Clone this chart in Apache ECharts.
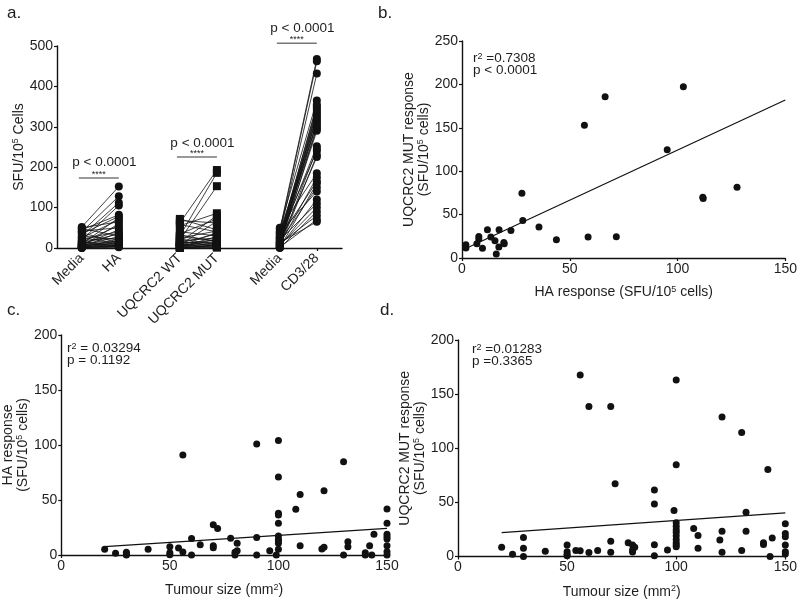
<!DOCTYPE html>
<html><head><meta charset="utf-8">
<script src="https://cdn.jsdelivr.net/npm/echarts@6/dist/echarts.min.js"></script>
<style>html,body{margin:0;padding:0;background:#fff}#c{width:800px;height:600px}</style>
</head><body><div id="c"></div>
<script>
// ---------- Panel a: paired responses ----------
const groupLabels = ['Media', 'HA', 'UQCRC2 WT', 'UQCRC2 MUT', 'Media', 'CD3/28'];
const aYTicks = [0, 100, 200, 300, 400, 500];
const haMedia = [52, 40, 30, 20, 45, 35, 10, 25, 50, 5, 15, 42, 8, 22, 3, 12, 48, 6, 18, 2, 30, 4, 14, 1, 9, 26, 3, 7, 0, 11, 2, 5, 1, 0, 38, 16];
const haResp  = [152, 128, 112, 105, 82, 78, 75, 70, 65, 60, 55, 50, 45, 40, 38, 35, 30, 28, 25, 22, 20, 18, 15, 14, 12, 10, 9, 8, 7, 6, 5, 4, 3, 2, 12, 3];
const wtResp  = [62, 30, 20, 68, 55, 15, 35, 8, 72, 25, 5, 12, 40, 3, 18, 2, 10, 28, 6, 1, 14, 4, 22, 0, 9, 2, 16, 0, 7, 58, 33, 1];
const mutResp = [193, 186, 153, 62, 86, 80, 72, 66, 45, 42, 38, 35, 30, 28, 25, 22, 20, 18, 16, 14, 12, 10, 9, 8, 6, 5, 4, 3, 2, 40, 15, 1];
const cdMedia = [45, 40, 35, 50, 30, 20, 10, 25, 15, 5, 40, 8, 18, 2, 28, 12, 22, 6, 32, 3, 14, 48, 9, 26, 1, 16, 38, 4, 20, 7, 0, 11, 2, 13, 24, 36];
const cdResp  = [468, 462, 432, 365, 350, 345, 340, 335, 330, 325, 320, 315, 310, 300, 295, 290, 252, 245, 240, 230, 225, 185, 175, 165, 160, 150, 140, 120, 110, 100, 90, 80, 70, 65, 355, 305];
const pairPText = ['p < 0.0001', 'p < 0.0001', 'p < 0.0001'];
const pairStars = ['****', '****', '****'];
const pairBarY  = [173, 225, 507];
const pairTextY = [213, 260, 545];

// ---------- Panel b: HA vs UQCRC2 MUT ----------
const bHA  = [1.8, 1.8, 7.8, 7.8, 6.9, 9.5, 11.8, 13.4, 15.3, 15.9, 17.1, 17.2, 19.4, 19.6, 22.7, 27.8, 28.2, 35.7, 43.8, 56.8, 58.5, 66.4, 71.6, 95.2, 102.7, 111.7, 111.9, 127.6];
const bMUT = [15.3, 11.5, 24.9, 21.8, 16.5, 11.1, 32.5, 24.1, 19.9, 4.6, 12.6, 32.5, 18.0, 16.5, 31.8, 74.7, 43.3, 35.6, 21.1, 152.8, 24.1, 185.7, 24.5, 124.8, 197.2, 70.1, 68.5, 81.5];
const bFitX = [1, 150];
const bFitY = [10, 182];
const bStats = ['=0.7308', 'p < 0.0001'];

// ---------- Panel c: tumour size vs HA ----------
const cSize = [20, 25, 30, 30, 30, 40, 50, 50, 50, 54, 56, 56, 60, 60, 64, 70, 72, 70, 70, 78, 80, 80, 81, 81, 90, 90, 90, 96, 100, 100, 100, 100, 100, 100, 100, 100, 100, 100, 99, 108, 110, 110, 120, 121, 121, 130, 130, 132, 132, 140, 140, 142, 144, 143, 150, 150, 150, 150, 150, 150, 150, 150];
const cHA   = [5.2, 1.5, 2.5, 1, 0, 5.2, 7.6, 2, 0.3, 6.4, 2.7, 91, 15, 0, 9.4, 27.6, 24.2, 8.5, 6.5, 15.2, 0, 2.4, 10.6, 3.9, 101, 15.8, 0, 3.9, 104, 71, 38, 36.4, 28.8, 17.3, 14.2, 13, 10.6, 5.2, 0, 41.5, 55, 8.5, 5.5, 7, 58.5, 84.8, 0, 12.1, 7.6, 2, 0, 8.5, 18.8, 0, 41.8, 28.8, 18.8, 16.7, 14.5, 8.5, 3, 0];
const cFitX = [20, 150];
const cFitY = [7.6, 24.2];
const cStats = ['= 0.03294', 'p = 0.1192'];

// ---------- Panel d: tumour size vs UQCRC2 MUT ----------
const dSize = [20, 25, 30, 30, 30, 40, 50, 50, 50, 50, 54, 56, 56, 60, 60, 64, 70, 70, 70, 72, 78, 80, 81, 80, 80, 90, 90, 90, 90, 96, 100, 100, 99, 100, 100, 100, 100, 100, 100, 100, 100, 100, 108, 110, 110, 120, 121, 121, 121, 130, 130, 132, 132, 140, 140, 142, 144, 143, 150, 150, 150, 150, 150, 150];
const dMUT  = [8.5, 2.1, 17.6, 7.6, 0, 4.8, 10.6, 4.5, 2.1, 0.6, 5.5, 5.2, 167.6, 138.5, 3.6, 5.5, 138.5, 14.2, 3.9, 67.3, 12.7, 10.6, 8.5, 6, 4.2, 61.5, 48.5, 10.9, 0.6, 6, 163, 84.8, 42.4, 31.2, 27.9, 24.8, 22.4, 19.1, 15.8, 12.7, 10.6, 9.1, 25.8, 19.4, 7.6, 15.2, 128.8, 23.3, 3.9, 114.5, 5.5, 40.9, 23.3, 12.7, 11.2, 80.3, 17, 0, 30.3, 21.2, 18.2, 10.6, 4.5, 2.4];
const dFitX = [20, 150];
const dFitY = [22.1, 40.3];
const dStats = ['=0.01283', 'p =0.3365'];

// ---------- layout ----------
const groupPos = [1, 2, 3.65, 4.65, 6.35, 7.35];
const FONT = 'Liberation Sans, Arial, sans-serif';
const TXT = '#1e1e1e';
const INK = '#111';
const rich = {
  n: { fontSize: 14, fontFamily: FONT, color: TXT, lineHeight: 15 },
  s: { fontSize: 9, fontFamily: FONT, color: TXT, verticalAlign: 'top', lineHeight: 9 }
};
function axisBase(extra) {
  return Object.assign({
    axisLine: { show: true, lineStyle: { color: INK, width: 1.4 } },
    axisTick: { show: true, length: 3, lineStyle: { color: INK, width: 1.2 } },
    axisLabel: { fontSize: 14, fontFamily: FONT, color: TXT, margin: 4 },
    splitLine: { show: false },
    nameLocation: 'middle',
    nameTextStyle: { fontSize: 14, fontFamily: FONT, color: TXT, rich: rich }
  }, extra);
}
const zip = (xs, ys) => xs.map((x, i) => [x, ys[i]]);

const series = [];
function pairLines(xi, yi, a, b) {
  a.forEach((v, i) => {
    series.push({ type: 'line', xAxisIndex: 0, yAxisIndex: 0, data: [[groupPos[xi], v], [groupPos[yi], b[i]]],
      symbol: 'none', lineStyle: { color: INK, width: 0.8 }, silent: true, z: 2 });
  });
}
pairLines(0, 1, haMedia, haResp);
pairLines(2, 3, wtResp, mutResp);
pairLines(4, 5, cdMedia, cdResp);
function marks(xi, vals, sym, size) {
  series.push({ type: 'scatter', xAxisIndex: 0, yAxisIndex: 0, symbol: sym, symbolSize: size, clip: false,
    data: vals.map(v => [groupPos[xi], v]), itemStyle: { color: INK, opacity: 1 }, z: 4 });
}
marks(0, haMedia, 'circle', 8); marks(1, haResp, 'circle', 8);
marks(2, wtResp, 'rect', 8); marks(3, mutResp, 'rect', 8);
marks(4, cdMedia, 'circle', 8); marks(5, cdResp, 'circle', 8);
// significance brackets
[[0, 1], [2, 3], [4, 5]].forEach((p, k) => {
  const x1 = groupPos[p[0]] - 0.08, x2 = groupPos[p[1]];
  series.push({ type: 'line', xAxisIndex: 0, yAxisIndex: 0, clip: false, symbol: 'none',
    data: [[x1, pairBarY[k]], [x2, pairBarY[k]]], lineStyle: { color: '#777', width: 1.5 }, z: 3 });
  series.push({ type: 'scatter', xAxisIndex: 0, yAxisIndex: 0, clip: false, symbolSize: 0,
    itemStyle: { opacity: 1 },
    data: [[(x1 + x2) / 2, pairBarY[k]]],
    label: { show: true, position: 'inside', offset: [0, -4], formatter: pairStars[k], fontSize: 9, fontFamily: FONT, color: TXT }, z: 3 });
  series.push({ type: 'scatter', xAxisIndex: 0, yAxisIndex: 0, clip: false, symbolSize: 0,
    itemStyle: { opacity: 1 },
    data: [[(x1 + x2) / 2 + 0.15, pairTextY[k]]],
    label: { show: true, position: 'inside', formatter: pairPText[k], fontSize: 13.5, fontFamily: FONT, color: TXT }, z: 3 });
});
// scatter panels
function scatterPanel(idx, xs, ys, fx, fy) {
  series.push({ type: 'line', xAxisIndex: idx, yAxisIndex: idx, data: zip(fx, fy), symbol: 'none',
    lineStyle: { color: INK, width: 1.2 }, z: 2 });
  series.push({ type: 'scatter', xAxisIndex: idx, yAxisIndex: idx, data: zip(xs, ys), symbol: 'circle',
    symbolSize: 7, clip: false, itemStyle: { color: INK, opacity: 1 }, z: 3 });
}
scatterPanel(1, bHA, bMUT, bFitX, bFitY);
scatterPanel(2, cSize, cHA, cFitX, cFitY);
scatterPanel(3, dSize, dMUT, dFitX, dFitY);

function statText(left, top, stats) {
  return { type: 'text', left: left, top: top, style: {
    text: '{n|r}{s|2}{n| ' + stats[0] + '}\n{n|' + stats[1] + '}',
    rich: { n: { fontSize: 13.5, fontFamily: FONT, fill: TXT, lineHeight: 12 }, s: { fontSize: 9, fontFamily: FONT, fill: TXT, verticalAlign: 'top', lineHeight: 7 } }
  } };
}
function panelLabel(left, top, t) {
  return { type: 'text', left: left, top: top, style: { text: t, fontSize: 17, fontFamily: FONT, fill: TXT } };
}

const option = {
  animation: false,
  backgroundColor: '#fff',
  grid: [
    { left: 57, top: 46, width: 285, height: 202 },
    { left: 462, top: 41, width: 327, height: 217 },
    { left: 57, top: 335, width: 330, height: 220 },
    { left: 458, top: 340, width: 330, height: 220 }
  ],
  xAxis: [
    axisBase({ gridIndex: 0, type: 'value', min: 0.33, max: 8.03,
      axisTick: { show: true, length: 3, customValues: groupPos, lineStyle: { color: INK, width: 1.2 } },
      axisLabel: { customValues: groupPos, rotate: 45, margin: 8, fontSize: 14, fontFamily: FONT, color: TXT,
        formatter: v => { let bi = 0; groupPos.forEach((p, i) => { if (Math.abs(p - v) < Math.abs(groupPos[bi] - v)) bi = i; }); return groupLabels[bi]; } } }),
    axisBase({ gridIndex: 1, type: 'value', min: 0, max: 150, interval: 50, name: '{n|HA response (SFU/10}{s|5}{n| cells)}', nameGap: 27 }),
    axisBase({ gridIndex: 2, type: 'value', min: 0, max: 150, interval: 50, name: '{n|Tumour size (mm}{s|2}{n|)}', nameGap: 28 }),
    axisBase({ gridIndex: 3, type: 'value', min: 0, max: 150, interval: 50, name: '{n|Tumour size (mm}{s|2}{n|)}', nameGap: 28 })
  ],
  yAxis: [
    axisBase({ gridIndex: 0, type: 'value', min: 0, max: 500, interval: 100, name: '{n|SFU/10}{s|5}{n| Cells}', nameGap: 29 }),
    axisBase({ gridIndex: 1, type: 'value', min: 0, max: 250, interval: 50, name: '{n|UQCRC2 MUT response}\n{n|(SFU/10}{s|5}{n| cells)}', nameGap: 22 }),
    axisBase({ gridIndex: 2, type: 'value', min: 0, max: 200, interval: 50, name: '{n|HA response}\n{n|(SFU/10}{s|5}{n| cells)}', nameGap: 27 }),
    axisBase({ gridIndex: 3, type: 'value', min: 0, max: 200, interval: 50, name: '{n|UQCRC2 MUT response}\n{n|(SFU/10}{s|5}{n| cells)}', nameGap: 27 })
  ],
  graphic: [
    panelLabel(7, 5, 'a.'), panelLabel(378, 5, 'b.'), panelLabel(7, 302, 'c.'), panelLabel(380, 302, 'd.'),
    statText(473, 51, bStats), statText(67, 341, cStats), statText(472, 342, dStats)
  ],
  series: series
};
const chart = echarts.init(document.getElementById('c'), null, { renderer: 'canvas' });
chart.setOption(option);
</script></body></html>
